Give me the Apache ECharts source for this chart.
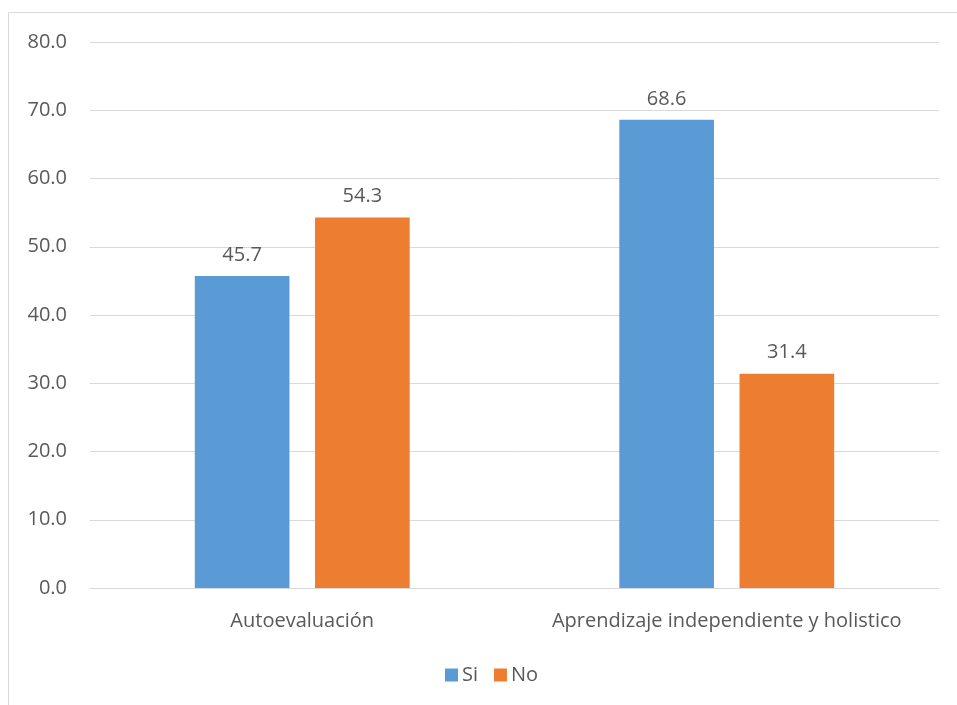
<!DOCTYPE html>
<html>
<head>
<meta charset="utf-8">
<script src="https://cdn.jsdelivr.net/npm/echarts@6/dist/echarts.min.js"></script>
<style>
  html, body { margin: 0; padding: 0; background: #fff; }
  #chart { width: 957px; height: 705px; }
</style>
</head>
<body>
<div id="chart"></div>
<script>
// Categories and series values
const categories = ['Autoevaluación', 'Aprendizaje independiente y holistico'];
const seriesNames = ['Si', 'No'];
const siValues = [45.7, 68.6];
const noValues = [54.3, 31.4];
const colors = ['#5b9bd5', '#ed7d31'];

const FONT = '"Open Sans", "Liberation Sans", sans-serif';
const TEXT = '#595959';
const FS = 20;

const chart = echarts.init(document.getElementById('chart'));

const labelStyle = {
  show: true,
  position: 'top',
  distance: 11,
  color: TEXT,
  fontFamily: FONT,
  fontSize: FS,
  formatter: p => p.value.toFixed(1)
};

chart.setOption({
  animation: false,
  backgroundColor: '#fff',
  graphic: [{
    type: 'rect',
    shape: { x: 8.5, y: 12.5, width: 960, height: 720 },
    style: { fill: 'none', stroke: '#d9d9d9', lineWidth: 1 },
    silent: true
  }],
  grid: { left: 90, right: 18, top: 42, bottom: 117, containLabel: false },
  legend: {
    data: seriesNames,
    top: 660,
    left: 440,
    itemWidth: 13,
    itemHeight: 13,
    itemGap: 16,
    icon: 'rect',
    textStyle: { color: TEXT, fontFamily: FONT, fontSize: FS, padding: [0, 0, 0, -1] }
  },
  xAxis: {
    type: 'category',
    data: categories,
    axisLine: { lineStyle: { color: '#d9d9d9', width: 1 } },
    axisTick: { show: false },
    axisLabel: {
      color: TEXT, fontFamily: FONT, fontSize: FS, margin: 23,
      interval: 0, hideOverlap: false
    }
  },
  yAxis: {
    type: 'value',
    min: 0,
    max: 80,
    interval: 10,
    axisLine: { show: false },
    axisTick: { show: false },
    splitLine: { lineStyle: { color: '#d9d9d9', width: 1 } },
    axisLabel: {
      color: TEXT, fontFamily: FONT, fontSize: FS, margin: 23,
      formatter: v => v.toFixed(1)
    }
  },
  series: [
    {
      name: seriesNames[0], type: 'bar', data: siValues,
      itemStyle: { color: colors[0] },
      barWidth: '22.3%', barGap: '27%',
      label: labelStyle
    },
    {
      name: seriesNames[1], type: 'bar', data: noValues,
      itemStyle: { color: colors[1] },
      barWidth: '22.3%', barGap: '27%',
      label: labelStyle
    }
  ]
});
</script>
</body>
</html>
